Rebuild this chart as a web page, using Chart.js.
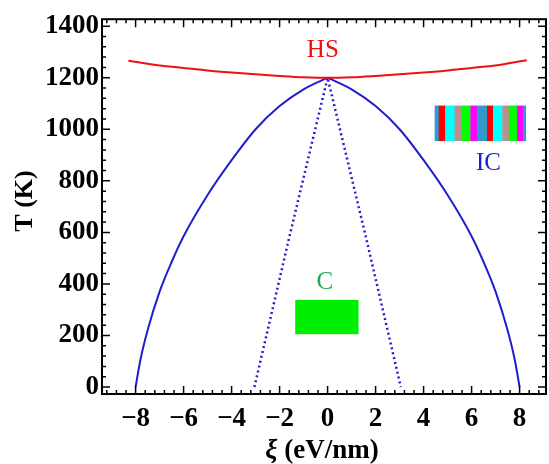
<!DOCTYPE html>
<html>
<head>
<meta charset="utf-8">
<script src="https://cdn.jsdelivr.net/npm/chart.js@4.4.0/dist/chart.umd.min.js"></script>
<style>
html, body { margin: 0; padding: 0; background: #fff; }
</style>
</head>
<body>
<canvas id="phaseChart" width="549" height="464"></canvas>
<script>
// HS boundary (red)
var hsX = [-8.3, -7.5, -7, -6, -5, -4, -3, -2, -1, 0, 1, 2, 3, 4, 5, 6, 7, 7.5, 8.3];
var hsT = [1266, 1254, 1247, 1238, 1228, 1220, 1213, 1207, 1202, 1200, 1202, 1207, 1213, 1220, 1228, 1238, 1247, 1255, 1268];

// IC boundary (blue solid), cusp at x = 0
var icX = [-8, -7.8, -7.5, -7, -6.5, -6, -5, -4, -3, -2, -1, 0, 1, 2, 3, 4, 5, 6, 6.5, 7, 7.5, 7.8, 8];
var icT = [0, 105, 220, 370, 485, 585, 745, 880, 1000, 1090, 1155, 1200, 1155, 1090, 1000, 880, 745, 585, 485, 370, 220, 105, 0];

// C boundary (blue dotted)
var cX = [-3.05, -1.6, 0, 1.6, 3.05];
var cT = [0, 580, 1200, 580, 0];

// tick values
var xTicks = [-8, -6, -4, -2, 0, 2, 4, 6, 8];
var yTicks = [0, 200, 400, 600, 800, 1000, 1200, 1400];

// phase labels: text, x, T, colour
var phaseLabels = [
  ['HS', -0.2, 1305, '#ee1111'],
  ['IC', 6.7, 866, '#1f1fd0'],
  ['C', -0.12, 405, '#1fa855']
];

// C marker box (x0, x1, T0, T1)
var cBox = [-1.35, 1.29, 205, 338];

// IC stripe icon: boundaries in x, colours, and T range
var stripeEdges = [4.46, 4.63, 4.90, 5.29, 5.57, 5.95, 6.22, 6.64, 6.89, 7.28, 7.55, 7.89, 8.14, 8.25];
var stripeColors = ['#3399cc', '#ff0000', '#00ffff', '#bc8f8f', '#00ff00', '#ff00ff', '#3399cc',
                    '#ff0000', '#00ffff', '#bc8f8f', '#00ff00', '#ff00ff', '#3399cc'];
var stripeT = [954, 1092];

function pts(xs, ys) {
  return xs.map(function (x, i) { return { x: x, y: ys[i] }; });
}

var icPts = pts(icX, icT);
var apex = icX.indexOf(0);

var serif = '"Liberation Serif", "Times New Roman", serif';

var framePlugin = {
  id: 'frame',
  beforeDatasetsDraw: function (chart) {
    var c = chart.ctx, xs = chart.scales.x, ys = chart.scales.y;
    c.save();
    // green C box
    c.fillStyle = '#00ee00';
    var bx0 = xs.getPixelForValue(cBox[0]), bx1 = xs.getPixelForValue(cBox[1]);
    var by0 = ys.getPixelForValue(cBox[3]), by1 = ys.getPixelForValue(cBox[2]);
    c.fillRect(bx0, by0, bx1 - bx0, by1 - by0);
    // IC stripes
    var sy0 = ys.getPixelForValue(stripeT[1]), sy1 = ys.getPixelForValue(stripeT[0]);
    for (var i = 0; i < stripeColors.length; i++) {
      var a = xs.getPixelForValue(stripeEdges[i]), b = xs.getPixelForValue(stripeEdges[i + 1]);
      c.fillStyle = stripeColors[i];
      c.fillRect(a, sy0, b - a + 0.5, sy1 - sy0);
    }
    c.restore();
  },
  afterDatasetsDraw: function (chart) {
    var c = chart.ctx, a = chart.chartArea, xs = chart.scales.x, ys = chart.scales.y;
    c.save();
    // frame
    c.strokeStyle = '#000';
    c.lineWidth = 2;
    c.strokeRect(a.left, a.top, a.right - a.left, a.bottom - a.top);
    // ticks, inward on all four sides
    c.lineWidth = 1.5;
    c.beginPath();
    var v, p, len;
    for (v = -9.2; v <= 9.1; v += 0.4) {
      var r = Math.round(v * 10) / 10;
      p = xs.getPixelForValue(r);
      len = (Math.abs(r % 2) < 0.01) ? 8 : 4;
      c.moveTo(p, a.bottom); c.lineTo(p, a.bottom - len);
      c.moveTo(p, a.top); c.lineTo(p, a.top + len);
    }
    for (v = 0; v <= 1420; v += 40) {
      p = ys.getPixelForValue(v);
      len = (v % 200 === 0) ? 8 : 4;
      c.moveTo(a.left, p); c.lineTo(a.left + len, p);
      c.moveTo(a.right, p); c.lineTo(a.right - len, p);
    }
    c.stroke();
    // phase labels
    c.textAlign = 'center';
    c.textBaseline = 'middle';
    c.font = '25px ' + serif;
    phaseLabels.forEach(function (l) {
      c.fillStyle = l[3];
      c.fillText(l[0], xs.getPixelForValue(l[1]), ys.getPixelForValue(l[2]));
    });
    // axis titles
    c.fillStyle = '#000';
    c.font = 'bold 26px ' + serif;
    c.save();
    c.translate(25, 201);
    c.rotate(-Math.PI / 2);
    c.fillText('T (K)', 0, 0);
    c.restore();
    var t1 = '\u03BE', t2 = ' (eV/nm)';
    c.font = 'italic bold 27px ' + serif;
    var w1 = c.measureText(t1).width;
    c.font = 'bold 27px ' + serif;
    var w2 = c.measureText(t2).width;
    var cx = (a.left + a.right) / 2 - 2;
    var x0 = cx - (w1 + w2) / 2;
    c.textAlign = 'left';
    c.font = 'italic bold 27px ' + serif;
    c.fillText(t1, x0, 451);
    c.font = 'bold 27px ' + serif;
    c.fillText(t2, x0 + w1, 451);
    c.restore();
  }
};

var ctx = document.getElementById('phaseChart').getContext('2d');

var myChart = new Chart(ctx, {
  type: 'line',
  data: {
    datasets: [{
        label: 'HS',
        data: pts(hsX, hsT),
        borderColor: '#ee1111',
        borderWidth: 2,
        pointRadius: 0,
        cubicInterpolationMode: 'monotone',
        fill: false
      },
      {
        label: 'IC left',
        data: icPts.slice(0, apex + 1),
        borderColor: '#1f1fd0',
        borderWidth: 2,
        pointRadius: 0,
        cubicInterpolationMode: 'monotone',
        fill: false
      },
      {
        label: 'IC right',
        data: icPts.slice(apex),
        borderColor: '#1f1fd0',
        borderWidth: 2,
        pointRadius: 0,
        cubicInterpolationMode: 'monotone',
        fill: false
      },
      {
        label: 'C',
        data: pts(cX, cT),
        borderColor: '#1f1fd0',
        borderWidth: 2.5,
        borderDash: [2, 3],
        pointRadius: 0,
        tension: 0,
        fill: false
      }
    ]
  },
  options: {
    responsive: false,
    animation: false,
    layout: { padding: { top: 13, right: 3, left: 0, bottom: 0 } },
    plugins: {
      legend: { display: false },
      tooltip: { enabled: false }
    },
    scales: {
      x: {
        type: 'linear',
        min: -9.4,
        max: 9.1,
        grid: { display: false, drawTicks: false },
        border: { display: false },
        afterFit: function (s) { s.height = 70; },
        afterBuildTicks: function (s) { s.ticks = xTicks.map(function (v) { return { value: v }; }); },
        ticks: {
          padding: 9,
          color: '#000',
          maxRotation: 0,
          autoSkip: false,
          font: { family: serif, size: 27, weight: 'bold' },
          callback: function (v) { return String(v).replace('-', '\u2212'); }
        }
      },
      y: {
        type: 'linear',
        min: -27,
        max: 1427,
        grid: { display: false, drawTicks: false },
        border: { display: false },
        afterFit: function (s) { s.width = 102; },
        afterBuildTicks: function (s) { s.ticks = yTicks.map(function (v) { return { value: v }; }); },
        ticks: {
          padding: 3,
          color: '#000',
          autoSkip: false,
          font: { family: serif, size: 27, weight: 'bold' },
          callback: function (v) { return String(v); }
        }
      }
    }
  },
  plugins: [framePlugin]
});
</script>
</body>
</html>
